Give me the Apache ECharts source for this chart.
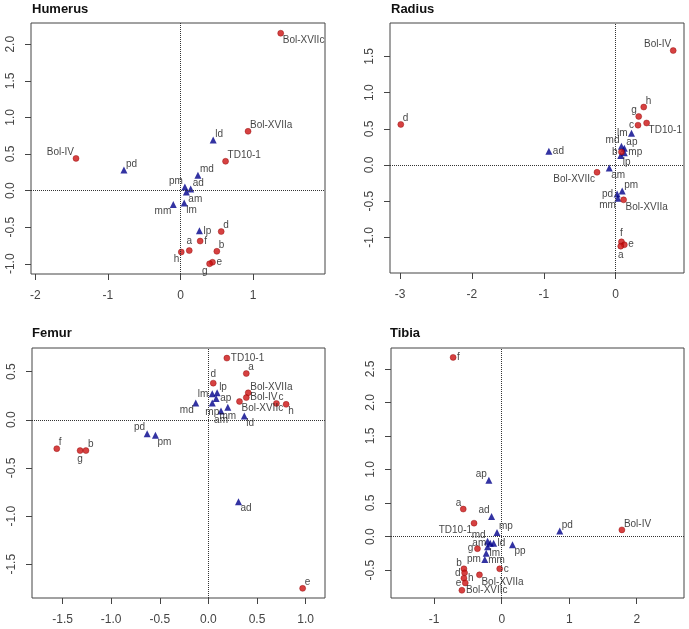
<!DOCTYPE html>
<html>
<head>
<meta charset="UTF-8">
<title></title>
<script src="https://cdn.jsdelivr.net/npm/echarts@6/dist/echarts.min.js"></script>
</head>
<body style="margin:0;background:#fff">
<div id="main" style="width:689px;height:629px;"></div>
<script type="text/javascript">
// Humerus
var humSiteNames = ['Bol-XVIIc','Bol-XVIIa','TD10-1','Bol-IV','d','f','a','h','b','e','g'];
var humSiteX = [1.38,0.93,0.62,-1.44,0.56,0.27,0.12,0.01,0.50,0.44,0.40];
var humSiteY = [2.15,0.81,0.40,0.44,-0.56,-0.69,-0.82,-0.84,-0.83,-0.98,-1.00];
var humVarNames = ['ld','pd','md','pm','ad','am','mm','lm','lp'];
var humVarX = [0.45,-0.78,0.24,0.06,0.14,0.08,-0.10,0.05,0.26];
var humVarY = [0.69,0.28,0.21,0.05,0.02,-0.02,-0.19,-0.17,-0.55];
var humXTicks = ['-2','-1','0','1'];
var humYTicks = ['-1.0','-0.5','0.0','0.5','1.0','1.5','2.0'];

// Radius
var radSiteNames = ['Bol-IV','h','g','TD10-1','c','d','b','Bol-XVIIc','Bol-XVIIa','f','e','a'];
var radSiteX = [0.80,0.39,0.32,0.43,0.31,-2.99,0.08,-0.26,0.11,0.08,0.12,0.07];
var radSiteY = [1.58,0.80,0.67,0.58,0.55,0.56,0.18,-0.10,-0.48,-1.06,-1.10,-1.12];
var radVarNames = ['lm','ad','md','ap','mp','lp','am','pm','pd','mm'];
var radVarX = [0.22,-0.93,0.08,0.12,0.12,0.07,-0.09,0.09,0.02,0.03];
var radVarY = [0.44,0.19,0.26,0.23,0.17,0.13,-0.04,-0.36,-0.40,-0.46];
var radXTicks = ['-3','-2','-1','0'];
var radYTicks = ['-1.0','-0.5','0.0','0.5','1.0','1.5'];

// Femur
var femSiteNames = ['TD10-1','a','d','Bol-XVIIa','Bol-IV','Bol-XVIIc','c','h','f','g','b','e'];
var femSiteX = [0.19,0.39,0.05,0.41,0.39,0.32,0.70,0.80,-1.56,-1.32,-1.26,0.97];
var femSiteY = [0.64,0.48,0.38,0.28,0.23,0.19,0.17,0.16,-0.30,-0.32,-0.32,-1.75];
var femVarNames = ['lm','lp','ap','md','mp','mm','am','ld','pd','pm','ad'];
var femVarX = [0.04,0.09,0.08,-0.13,0.04,0.20,0.13,0.37,-0.63,-0.545,0.31];
var femVarY = [0.27,0.28,0.22,0.175,0.175,0.13,0.09,0.04,-0.145,-0.16,-0.85];
var femXTicks = ['-1.5','-1.0','-0.5','0.0','0.5','1.0'];
var femYTicks = ['-1.5','-1.0','-0.5','0.0','0.5'];

// Tibia
var tibSiteNames = ['f','a','TD10-1','Bol-IV','g','c','b','d','Bol-XVIIa','h','e','Bol-XVIIc'];
var tibSiteX = [-0.72,-0.57,-0.41,1.78,-0.36,-0.03,-0.56,-0.55,-0.33,-0.56,-0.54,-0.59];
var tibSiteY = [2.67,0.41,0.20,0.10,-0.18,-0.48,-0.48,-0.54,-0.57,-0.62,-0.69,-0.80];
var tibVarNames = ['ap','ad','mp','pd','md','am','ld','lm','pp','mm','pm'];
var tibVarX = [-0.19,-0.15,-0.07,0.86,-0.21,-0.17,-0.12,-0.21,0.16,-0.23,-0.25];
var tibVarY = [0.84,0.30,0.06,0.085,-0.07,-0.10,-0.10,-0.15,-0.12,-0.25,-0.34];
var tibXTicks = ['-1','0','1','2'];
var tibYTicks = ['-0.5','0.0','0.5','1.0','1.5','2.0','2.5'];

// label placement (like R's pos), kept apart from the data
var humSitePos = ['br','tr','tr','tl','tr','r','t','bl','tr','r','bl'];
var humVarPos = ['tr','tr','tr','tl','tr','br','bl','br','r'];
var radSitePos = ['tl','tr','tl','br','l','tr','l','bl','br','t','r','b'];
var radVarPos = ['l','r','tl','tr','r','br','br','tr','l','bl'];
var femSitePos = ['r','tr','t','tr','r','br','tr','br','tr','b','tr','tr'];
var femVarPos = ['l','tr','r','bl','b','b','b','br','tl','br','br'];
var tibSitePos = ['r','tl','bl','tr','l','r','tl','l','br','r','l','r'];
var tibVarPos = ['tl','tl','tr','tr','tl','l','r','br','br','br','l'];

var PLACE = {
	r: [4, 0, 'left'], l: [-4, 0, 'right'],
	t: [0, -9, 'center'], b: [0, 9, 'center'],
	tr: [2, -6, 'left'], br: [2, 7, 'left'],
	tl: [-2, -6, 'right'], bl: [-2, 7, 'right']
};

var panels = [
	{title:'Humerus', sN:humSiteNames, sX:humSiteX, sY:humSiteY, sP:humSitePos, vN:humVarNames, vX:humVarX, vY:humVarY, vP:humVarPos, xt:humXTicks, yt:humYTicks,
	 left:31, top:23, width:294, height:251, xMin:-2.06, xMax:1.99, yMin:-1.14, yMax:2.29, tl:32, tt:3},
	{title:'Radius', sN:radSiteNames, sX:radSiteX, sY:radSiteY, sP:radSitePos, vN:radVarNames, vX:radVarX, vY:radVarY, vP:radVarPos, xt:radXTicks, yt:radYTicks,
	 left:390, top:23, width:294, height:250, xMin:-3.14, xMax:0.95, yMin:-1.49, yMax:1.96, tl:391, tt:3},
	{title:'Femur', sN:femSiteNames, sX:femSiteX, sY:femSiteY, sP:femSitePos, vN:femVarNames, vX:femVarX, vY:femVarY, vP:femVarPos, xt:femXTicks, yt:femYTicks,
	 left:32, top:348, width:293, height:250, xMin:-1.815, xMax:1.20, yMin:-1.85, yMax:0.745, tl:32, tt:327},
	{title:'Tibia', sN:tibSiteNames, sX:tibSiteX, sY:tibSiteY, sP:tibSitePos, vN:tibVarNames, vX:tibVarX, vY:tibVarY, vP:tibVarPos, xt:tibXTicks, yt:tibYTicks,
	 left:391, top:348, width:293, height:250, xMin:-1.64, xMax:2.70, yMin:-0.915, yMax:2.81, tl:390, tt:327}
];

function points(names, xs, ys, pos) {
	var out = [];
	for (var i = 0; i < names.length; i++) {
		var p = PLACE[pos[i]];
		out.push({
			name: names[i],
			value: [xs[i], ys[i]],
			label: {position: 'inside', align: p[2], verticalAlign: 'middle', offset: [p[0], p[1]]}
		});
	}
	return out;
}

function tickAxis(labels, min, max, idx, isY) {
	var vals = labels.map(function (s) { return parseFloat(s); });
	var dec = (labels[labels.length - 1].split('.')[1] || '').length;
	return {
		type: 'value', gridIndex: idx, min: min, max: max,
		position: isY ? 'left' : 'bottom',
		axisLine: {show: false, onZero: false},
		splitLine: {show: false},
		axisTick: {show: true, inside: false, length: 6, customValues: vals, lineStyle: {color: '#444'}},
		axisLabel: {
			customValues: vals, color: '#444', fontSize: 12, fontFamily: 'Liberation Sans, Arial',
			margin: isY ? 14 : 16, rotate: isY ? 90 : 0,
			formatter: function (v) { return v.toFixed(dec); }
		}
	};
}

var titles = [], grids = [], xAxes = [], yAxes = [], series = [];
var labelStyle = {show: true, formatter: '{b}', color: '#111', fontSize: 10, fontFamily: 'Liberation Sans, Arial'};

panels.forEach(function (pn, i) {
	titles.push({text: pn.title, left: pn.tl, top: pn.tt, padding: 0,
		textStyle: {fontSize: 13, fontWeight: 'bold', color: '#111', fontFamily: 'Liberation Sans, Arial'}});
	grids.push({left: pn.left, top: pn.top, width: pn.width, height: pn.height, show: true,
		borderColor: '#444', borderWidth: 1, backgroundColor: 'transparent'});
	xAxes.push(tickAxis(pn.xt, pn.xMin, pn.xMax, i, false));
	yAxes.push(tickAxis(pn.yt, pn.yMin, pn.yMax, i, true));
	series.push({
		type: 'scatter', xAxisIndex: i, yAxisIndex: i,
		symbol: 'triangle', symbolSize: 7,
		itemStyle: {color: '#00008B'},
		label: labelStyle,
		data: points(pn.vN, pn.vX, pn.vY, pn.vP),
		z: 3
	});
	series.push({
		type: 'scatter', xAxisIndex: i, yAxisIndex: i,
		symbol: 'circle', symbolSize: 6,
		itemStyle: {color: '#CC1111', borderColor: '#8B0000', borderWidth: 0.5},
		label: labelStyle,
		data: points(pn.sN, pn.sX, pn.sY, pn.sP),
		markLine: {
			silent: true, symbol: ['none', 'none'], label: {show: false},
			lineStyle: {color: '#333', type: 'dotted', width: 1},
			data: [{xAxis: 0}, {yAxis: 0}]
		},
		z: 4
	});
});

var myChart = echarts.init(document.getElementById('main'));
myChart.setOption({
	animation: false,
	title: titles,
	grid: grids,
	xAxis: xAxes,
	yAxis: yAxes,
	series: series
});
</script>
</body>
</html>
